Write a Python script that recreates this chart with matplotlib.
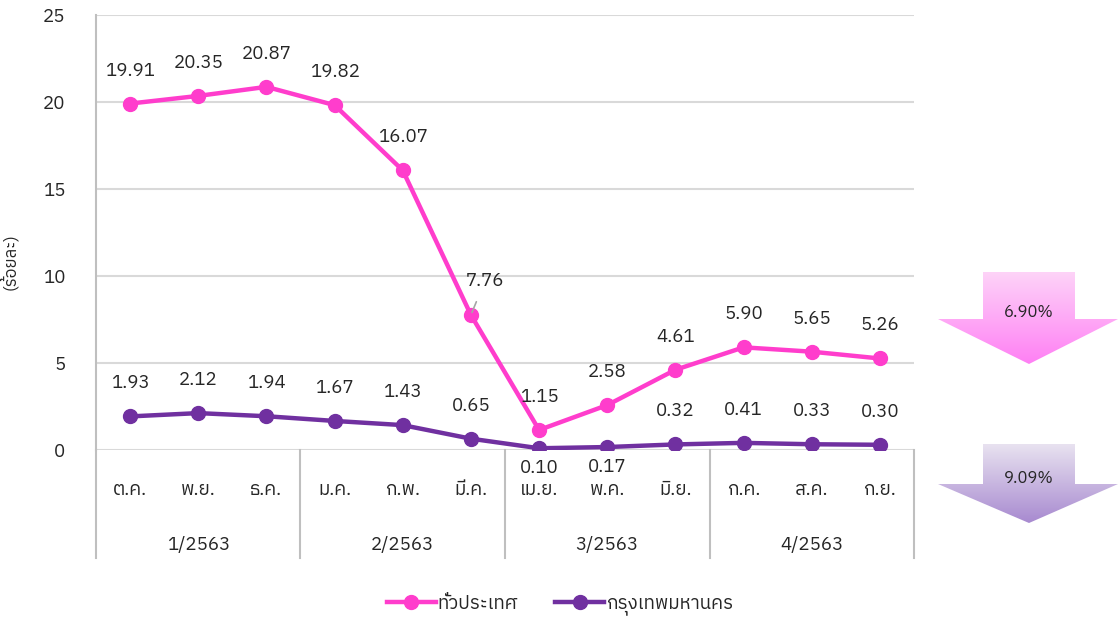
import numpy as np
import matplotlib
matplotlib.use("Agg")
import matplotlib.pyplot as plt
from matplotlib import font_manager
from matplotlib.ft2font import FT2Font
from matplotlib.patches import Polygon

# data
months = ["ต.ค.", "พ.ย.", "ธ.ค.", "ม.ค.", "ก.พ.", "มี.ค.",
          "เม.ย.", "พ.ค.", "มิ.ย.", "ก.ค.", "ส.ค.", "ก.ย."]
quarters = ["1/2563", "2/2563", "3/2563", "4/2563"]
whole_country = [19.91, 20.35, 20.87, 19.82, 16.07, 7.76,
                 1.15, 2.58, 4.61, 5.90, 5.65, 5.26]
bangkok = [1.93, 2.12, 1.94, 1.67, 1.43, 0.65,
           0.10, 0.17, 0.32, 0.41, 0.33, 0.30]
series_names = ["ทั่วประเทศ", "กรุงเทพมหานคร"]
arrow_labels = ["6.90%", "9.09%"]
y_label = "(ร้อยละ)"


# find a font that has Thai glyphs, fall back to DejaVu Sans
def find_thai_font():
    found = []
    for f in font_manager.fontManager.ttflist:
        try:
            if 0x0E01 in FT2Font(f.fname).get_charmap():
                found.append(f.name)
        except Exception:
            pass
    for name in found:
        if "Sans" in name:
            return name
    return found[0] if found else None


thai = find_thai_font()
families = [thai, "DejaVu Sans"] if thai else ["DejaVu Sans"]
plt.rcParams["font.family"] = families

PINK = "#ff3dcc"
PURPLE = "#7030a0"
GRID = "#d9d9d9"
TXT = "#262626"
FS = 13.5

W, H = 1119, 620
fig = plt.figure(figsize=(W / 100, H / 100), dpi=100)
ax = fig.add_axes([96 / W, 1 - 450 / H, (914 - 96) / W, (450 - 15) / H])

x = np.arange(len(months))
ax.plot(x, whole_country, color=PINK, lw=3.2, marker="o", ms=10, label=series_names[0])
ax.plot(x, bangkok, color=PURPLE, lw=3.2, marker="o", ms=10, label=series_names[1])

ax.set_xlim(-0.5, len(months) - 0.5)
ax.set_ylim(0, 25)
ax.set_yticks(range(0, 26, 5))
ax.yaxis.grid(True, color=GRID, lw=1.5)
ax.set_axisbelow(True)
for s in ["top", "right", "bottom"]:
    ax.spines[s].set_visible(False)
ax.spines["left"].set_color("#bfbfbf")
ax.spines["left"].set_linewidth(1.5)
ax.tick_params(axis="y", length=0, pad=22, labelsize=FS, colors=TXT)
ax.tick_params(axis="x", length=0, pad=22, labelsize=FS, colors=TXT)
ax.set_xticks(x)
ax.set_xticklabels(months)
ax.set_ylabel(y_label, fontsize=12, color=TXT)
ax.yaxis.set_label_coords((18 - 96) / 818, (450 - 262) / 435)

# point labels
for i, v in enumerate(whole_country):
    if i == 5:
        ax.annotate(f"{v:.2f}", (i, v), xytext=(14, 34), textcoords="offset pixels",
                    ha="center", va="center", fontsize=FS, color=TXT,
                    arrowprops=dict(arrowstyle="-", color="#a6a6a6", lw=1.2,
                                    shrinkA=7, shrinkB=2))
    else:
        ax.annotate(f"{v:.2f}", (i, v), xytext=(0, 33), textcoords="offset pixels",
                    ha="center", va="center", fontsize=FS, color=TXT)
for i, v in enumerate(bangkok):
    dy = -20 if i in (6, 7) else 33
    ax.annotate(f"{v:.2f}", (i, v), xytext=(0, dy), textcoords="offset pixels",
                ha="center", va="center", fontsize=FS, color=TXT)

# category separators below the axis and quarter labels
trans = ax.get_xaxis_transform()
sep_bottom = -(558 - 450) / (450 - 15)
for b in [-0.5, 2.5, 5.5, 8.5, 11.5]:
    ax.plot([b, b], [0, sep_bottom], transform=trans, color="#bfbfbf", lw=1.5, clip_on=False)
for q, name in enumerate(quarters):
    ax.text(q * 3 + 1, -(545 - 450) / (450 - 15), name, transform=trans,
            ha="center", va="center", fontsize=FS, color=TXT)

fig.legend(loc="center", bbox_to_anchor=(560 / W, 1 - 605 / H), ncol=2, frameon=False,
           fontsize=FS, handlelength=2.6, columnspacing=2.0, handletextpad=0.1,
           labelcolor=TXT)

# gradient arrows on the right side
over = fig.add_axes([0, 0, 1, 1])
over.set_xlim(0, W)
over.set_ylim(H, 0)
over.axis("off")


def gradient_arrow(top, body_bottom, tip, c_top, c_bot, label):
    pts = [(983, top), (1075, top), (1075, body_bottom), (1118, body_bottom),
           (1029, tip), (938, body_bottom), (983, body_bottom)]
    poly = Polygon(pts, closed=True, facecolor="none", edgecolor="none")
    over.add_patch(poly)
    c1 = np.array(matplotlib.colors.to_rgb(c_top))
    c2 = np.array(matplotlib.colors.to_rgb(c_bot))
    t = np.linspace(0, 1, 100)[:, None]
    grad = (c1 * (1 - t) + c2 * t)[:, None, :]
    im = over.imshow(grad, extent=(938, 1118, tip, top), aspect="auto",
                     interpolation="bilinear", zorder=1)
    im.set_clip_path(poly)
    over.text(1029, top + (body_bottom - top) * 0.85, label, ha="center", va="center",
              fontsize=12, color=TXT, zorder=2)


gradient_arrow(272, 319, 364, "#fdd3f8", "#ff80f4", arrow_labels[0])
gradient_arrow(444, 484, 523, "#e8e2f0", "#a88ad0", arrow_labels[1])
over.set_xlim(0, W)
over.set_ylim(H, 0)

fig.savefig("out.png", dpi=100)
